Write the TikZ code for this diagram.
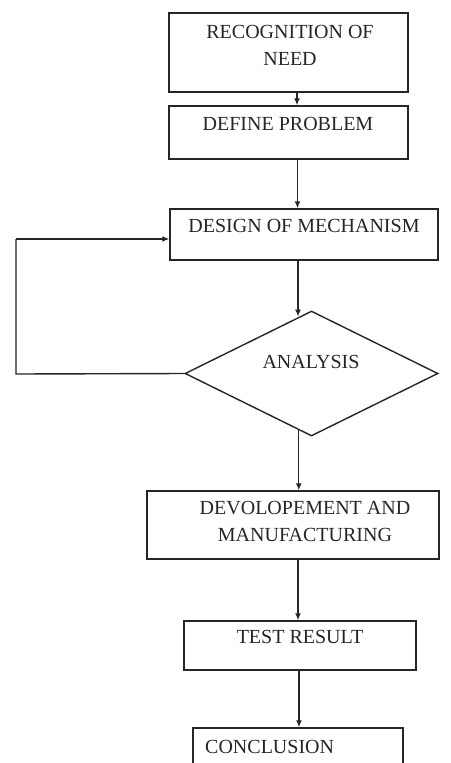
\documentclass[tikz,border=0pt]{standalone}
\usepackage{fontspec}
\setmainfont{Liberation Serif}
\usetikzlibrary{arrows.meta,shapes.geometric,calc}
\begin{document}
\begin{tikzpicture}[x=1pt,y=-1pt,
  box/.style={draw=black!85,line width=1.4pt,rectangle,inner sep=0pt},
  dia/.style={draw=black!85,line width=1.4pt,diamond,inner sep=0pt,minimum width=253pt,minimum height=125pt},
  txt/.style={inner sep=0pt,align=center,font=\fontsize{20}{27}\selectfont,text=black!85},
  arr/.style={draw=black!85,line width=1.4pt,-{Latex[length=7pt,width=6pt]}},
  lin/.style={draw=black!85,line width=1.4pt}]
\path[use as bounding box] (0,0) rectangle (450,763);
\clip (0,0) rectangle (450,763);
\fill[white] (0,0) rectangle (450,763);
% boxes
\node[box,minimum width=239pt,minimum height=79pt] (b1) at (288.5,52.5) {};
\node[box,minimum width=239pt,minimum height=53pt] (b2) at (288.5,132.5) {};
\node[box,minimum width=268pt,minimum height=51pt] (b3) at (304,234.5) {};
\node[dia] (d) at (311.5,373.5) {};
\node[box,minimum width=292pt,minimum height=68pt] (b4) at (293,525) {};
\node[box,minimum width=232pt,minimum height=49pt] (b5) at (300,645.5) {};
\node[box,minimum width=210pt,minimum height=48pt] (b6) at (298,752) {};
% texts
\node[txt] (t1) at (290,45) {RECOGNITION OF\\NEED};
\node[txt] (t2) at (288,124) {DEFINE PROBLEM};
\node[txt] (t3) at (304,226) {DESIGN OF MECHANISM};
\node[txt] (t4) at (311,362) {ANALYSIS};
\node[txt] (t5) at (305,521) {DEVOLOPEMENT AND\\MANUFACTURING};
\node[txt] (t6) at (300,637) {TEST RESULT};
\node[txt,anchor=west] (t7) at (205,747) {CONCLUSION};
% connectors
\coordinate (a1) at ($(b1.south)+(8.5,0)$);
\draw[arr] (a1) -- (a1 |- b2.north);
\coordinate (a2) at ($(b2.south)+(9,0)$);
\draw[arr] (a2) -- (a2 |- b3.north);
\coordinate (a3) at ($(b3.south)+(-6,0)$);
\coordinate (dt) at ($(d.north)!0.1!(d.west)$);
\draw[arr] (a3) -- (a3 |- dt);
\coordinate (a4) at ($(d.south)!0.1!(d.west)$);
\draw[arr] (a4) -- (a4 |- b4.north);
\coordinate (a5) at ($(b4.south)+(5,0)$);
\draw[arr] (a5) -- (a5 |- b5.north);
\coordinate (a6) at ($(b5.south)+(-1,0)$);
\draw[arr] (a6) -- (a6 |- b6.north);
\coordinate (fb) at (16,374);
\coordinate (in3) at ($(b3.west)+(0,4.5)$);
\draw[lin] (d.west) -- (fb) -- (fb |- in3);
\draw[arr] (fb |- in3) -- (in3);
\end{tikzpicture}
\end{document}
